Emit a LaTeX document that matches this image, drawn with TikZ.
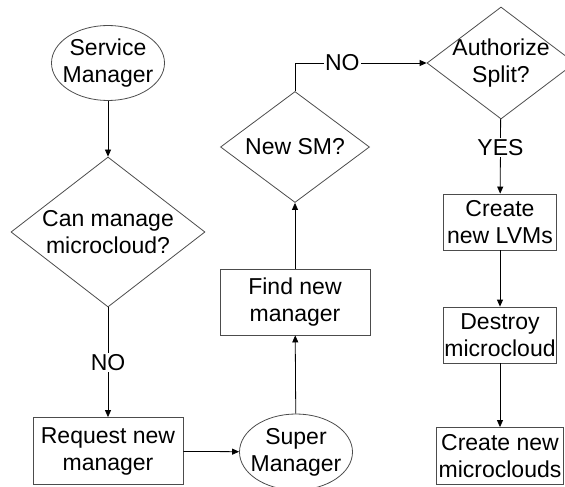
\documentclass[tikz,border=0pt]{standalone}
\usepackage{fontspec}
\setmainfont{Liberation Sans}
\usetikzlibrary{shapes.geometric,arrows.meta}

% zero-width line, so that the text does not size the shape
\newcommand{\ctext}[1]{\makebox[0pt]{#1}}

\tikzset{
  terminal/.style={ellipse, draw=black!70, inner sep=0pt, align=center},
  process/.style={rectangle, draw=black!70, inner sep=0pt, align=center},
  decision/.style={diamond, draw=black!70, inner sep=0pt, align=center},
  flow/.style={-{Triangle[length=7pt,width=6pt]}, black},
  answer/.style={fill=white, inner sep=1.5pt}
}

\begin{document}
\begin{tikzpicture}[x=1pt, y=-1pt, line width=0.8pt,
    font=\fontsize{23}{27}\selectfont]
      \clip (0,0) rectangle (565,487);

      \node[terminal, minimum width=113, minimum height=75] (sm) at (108,63) {\ctext{Service}\\\ctext{Manager}};
      \node[decision, minimum width=194, minimum height=150] (canmanage) at (108,232) {\ctext{Can manage}\\\ctext{microcloud?}};
      \node[process, minimum width=150, minimum height=67] (request) at (108,451) {Request new\\manager};
      \node[terminal, minimum width=113, minimum height=76] (super) at (296,452) {\ctext{Super}\\\ctext{Manager}};
      \node[process, minimum width=150, minimum height=66] (findnew) at (295,302) {Find new\\manager};
      \node[decision, minimum width=149, minimum height=111] (newsm) at (295,147) {\ctext{New SM?}};
      \node[decision, minimum width=148, minimum height=112] (authorize) at (501,63) {\ctext{Authorize}\\\ctext{Split?}};
      \node[process, minimum width=113, minimum height=56] (lvms) at (500,222) {Create\\new LVMs};
      \node[process, minimum width=113, minimum height=56] (destroy) at (500,335) {Destroy\\microcloud};
      \node[process, minimum width=127, minimum height=57] (microclouds) at (500,456) {Create new\\microclouds};

      \draw[flow] (sm) -- (canmanage);
      \draw[flow] (canmanage) -- node[answer] {NO} (request);
      \draw[flow] (request) -- (super);
      \draw[flow] (super) -- (findnew);
      \draw[flow] (findnew) -- (newsm);
      \draw[flow] (newsm.north) |- node[answer, pos=0.68] {NO} (authorize.west);
      \draw[flow] (authorize) -- node[answer, pos=0.38] {YES} (lvms);
      \draw[flow] (lvms) -- (destroy);
      \draw[flow] (destroy) -- (microclouds);
\end{tikzpicture}
\end{document}
